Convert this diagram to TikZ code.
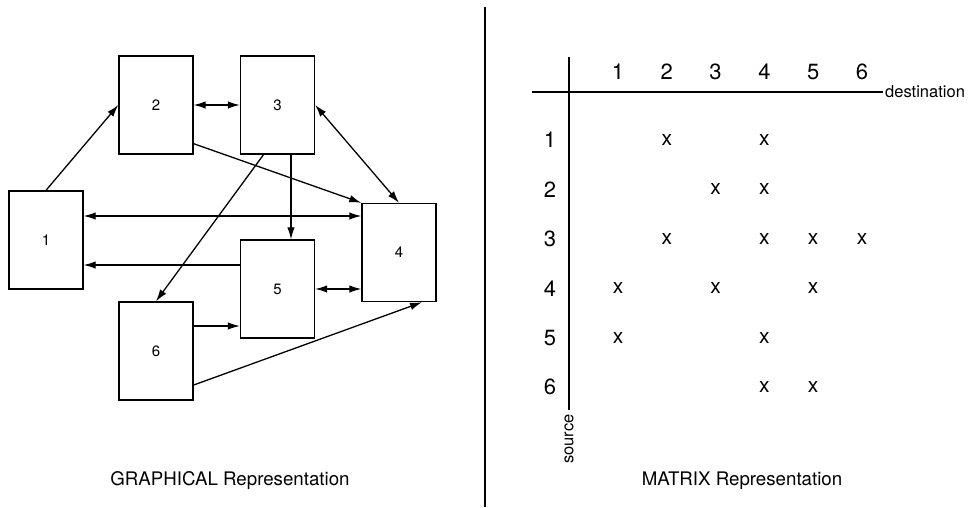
\documentclass[tikz,border=0pt]{standalone}
\usepackage{fontspec}
\setmainfont{TeX Gyre Heros}
\usepackage{tikz}
\usetikzlibrary{arrows.meta,positioning,calc}

\begin{document}
\begin{tikzpicture}[
  x=1pt, y=-1pt,
  box/.style={draw, line width=1.4pt, minimum width=74pt, minimum height=98pt, inner sep=0pt, font=\fontsize{15}{17}\selectfont},
  arr/.style={line width=1.3pt, -{Latex[length=12pt,width=7.5pt]}},
  both/.style={line width=1.3pt, {Latex[length=12pt,width=7.5pt]}-{Latex[length=12pt,width=7.5pt]}},
  num/.style={font=\fontsize{22}{24}\selectfont},
  xmark/.style={font=\fontsize{21}{23}\selectfont},
  caption/.style={font=\fontsize{18.7}{21}\selectfont}
]
  \useasboundingbox (0,0) rectangle (970,507);

  % graphical side
  \node[box] (n1) at (46,240) {1};
  \node[box] (n2) at (156,105) {2};
  \node[box] (n3) at (277.5,105) {3};
  \node[box] (n4) at (399,252.5) {4};
  \node[box] (n5) at (277.5,289) {5};
  \node[box] (n6) at (156,351) {6};

  \coordinate (a14) at ([yshift=24pt]n1.east);
  \coordinate (a51) at ([yshift=24pt]n5.west);
  \coordinate (a65) at ([yshift=25pt]n6.east);

  \draw[arr] (n1.north) -- (n2.west);
  \draw[both] (n2.east) -- (n3.west);
  \draw[arr] ([yshift=11pt]n2.south east) -- (n4.north west);
  \draw[both] (n3.east) -- (n4.north);
  \draw[arr] ([xshift=-14pt]n3.south) -- (n6.north);
  \draw[arr] ([xshift=13.5pt]n3.south) -- ([xshift=13.5pt]n5.north);
  \draw[both] (a14) -- (a14 -| n4.west);
  \draw[arr] (a51) -- (a51 -| n1.east);
  \draw[both] (n5.east) -- (n5.east -| n4.west);
  \draw[arr] (a65) -- (a65 -| n5.west);
  \draw[arr] ([yshift=-34pt]n6.east) -- ([xshift=23pt]n4.south);

  \node[caption] (gcap) at (230,481) {GRAPHICAL Representation};

  % divider
  \draw[line width=1.5pt] (485,7) -- (485,507);

  % matrix side
  \coordinate (org) at (569,92);
  \draw[line width=1.3pt] (org |- 0,57) -- (org |- 0,410) coordinate (vend);
  \draw[line width=1.3pt] (532,92) -- (883,92) coordinate (hend);
  \node[font=\fontsize{16.5}{19}\selectfont, anchor=west, inner sep=2pt] (dest) at (hend) {destination};
  \node[font=\fontsize{16.5}{19}\selectfont, rotate=90, anchor=east, inner sep=4pt] (src) at (vend) {source};

  \foreach \i in {1,...,6} {
    \node[num] (c\i) at ({618+48.8*(\i-1)},72) {\i};
    \node[num] (r\i) at (550,{140+49.4*(\i-1)}) {\i};
  }
  \foreach \r/\c in {1/2,1/4,2/3,2/4,3/2,3/4,3/5,3/6,4/1,4/3,4/5,5/1,5/4,6/4,6/5}
    \node[xmark] (x\r\c) at (c\c |- r\r) {x};

  \node[caption] (mcap) at (742,481) {MATRIX Representation};
\end{tikzpicture}
\end{document}
